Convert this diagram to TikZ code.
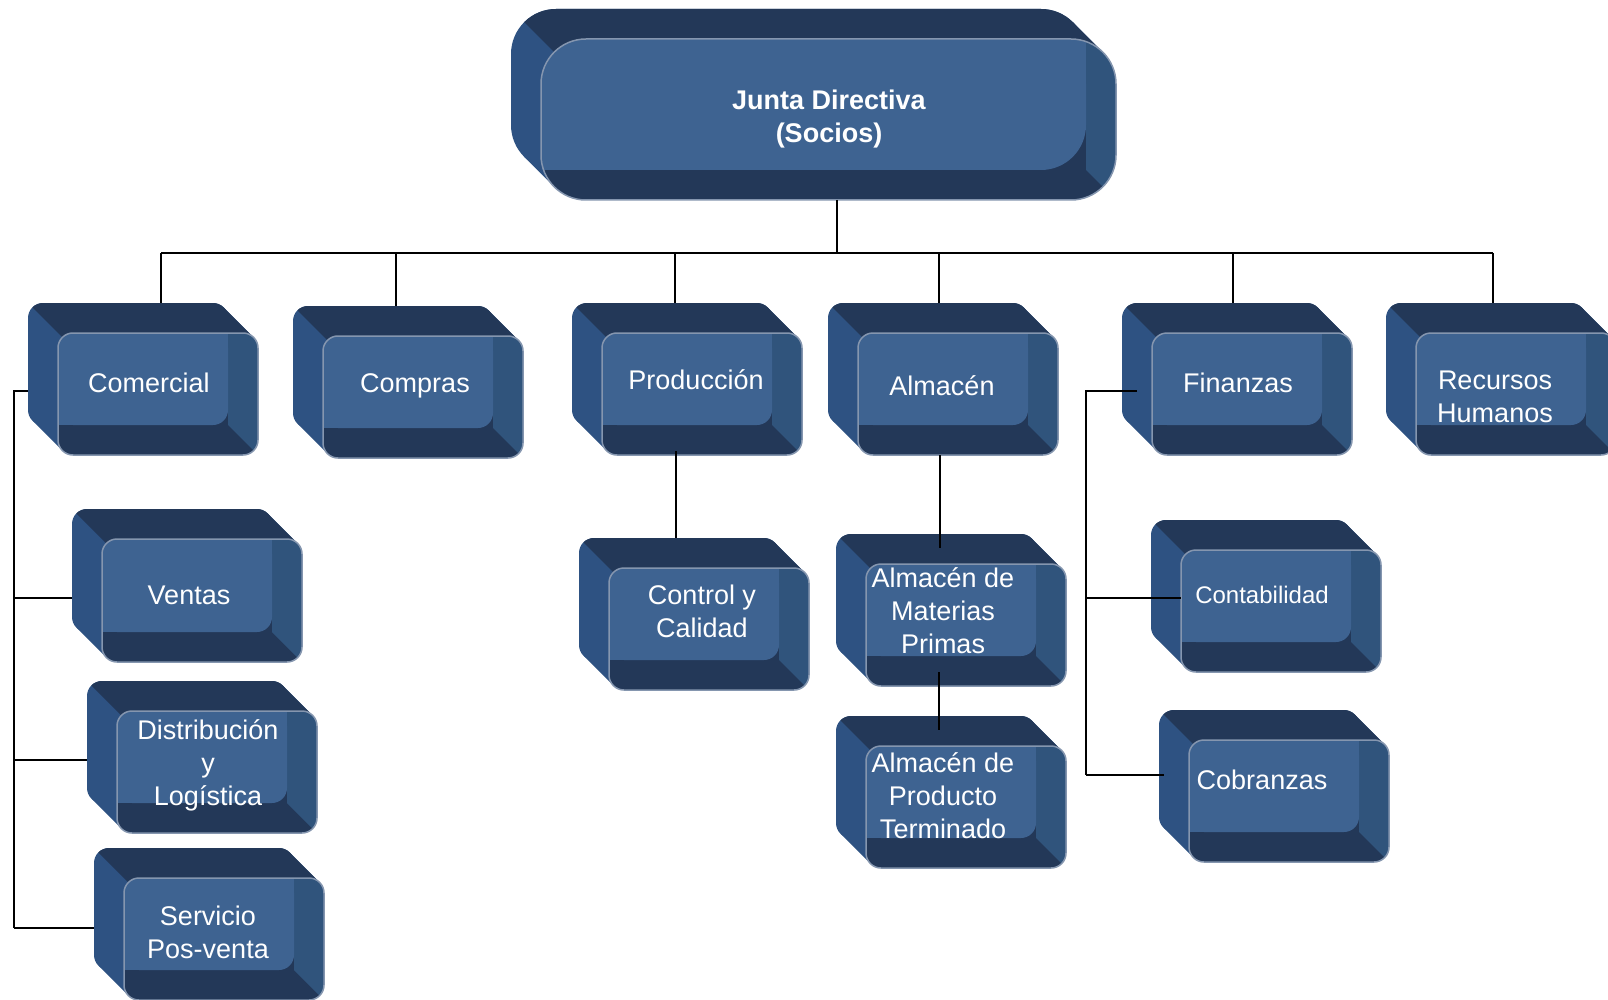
\documentclass[tikz,border=0pt]{standalone}
\usepackage{fontspec}
\setmainfont{Liberation Sans}
\usetikzlibrary{calc}

\definecolor{boxdark}{HTML}{233858}
\definecolor{boxside}{HTML}{2E5282}
\definecolor{facelight}{HTML}{3E6391}
\definecolor{facemid}{HTML}{30547C}
\definecolor{faceedge}{HTML}{8596AF}

\tikzset{
  link/.style={draw=black, line width=2pt},
  boxtext/.style={text=white, align=center, inner sep=0pt,
                  font=\fontsize{27}{33}\selectfont},
  anchorbox/.style={inner sep=0pt, outer sep=0pt},
}

% silhouette pieces of a block: back face, front face, joining band
% #1 x0, #2 y0, #3 width, #4 height, #5 radius, #6 fill colour
\newcommand\blockhull[6]{%
  \fill[#6, rounded corners=#5] ({#1-30},{#2-30}) rectangle ({#1+#3-30},{#2+#4-30});
  \fill[#6, rounded corners=#5] ({#1},{#2}) rectangle ({#1+#3},{#2+#4});
  \fill[#6]
    ({#1+#3-30-#5+\sbtan},{#2-30+#5-\sbtan}) -- ({#1+#3-#5+\sbtan},{#2+#5-\sbtan})
    -- ({#1+#5-\sbtan},{#2+#4-#5+\sbtan}) -- ({#1-30+#5-\sbtan},{#2+#4-30-#5+\sbtan}) -- cycle;
}

% #1 name, #2 x0, #3 y0, #4 width, #5 height, #6 corner radius,
% #7 text x, #8 text y, #9 text  (front face at (x0,y0), depth 30 up-left)
\newcommand\solidbox[9]{%
  \pgfmathsetmacro\sbtan{0.7071*#6}%
  % whole block in the side colour, then the top face in dark
  \blockhull{#2}{#3}{#4}{#5}{#6}{boxside}
  \begin{scope}
    \clip ({#2-100},{#3-100}) -- ({#2+#4+100},{#3+#4+100}) -- ({#2+#4+100},{#3-200})
      -- ({#2-100},{#3-200}) -- cycle;
    \blockhull{#2}{#3}{#4}{#5}{#6}{boxdark}
  \end{scope}
  % front face: dark base, right strip, light panel
  \begin{scope}
    \clip[rounded corners=#6] ({#2},{#3}) rectangle ({#2+#4},{#3+#5});
    \fill[boxdark] ({#2},{#3}) rectangle ({#2+#4},{#3+#5});
    \fill[facemid] ({#2+#4-30},{#3}) -- ({#2+#4},{#3}) -- ({#2+#4},{#3+#5})
      -- ({#2+#4-30},{#3+#5-30}) -- cycle;
    \fill[facelight, rounded corners=#6] ({#2},{#3}) rectangle ({#2+#4-30},{#3+#5-30});
    \fill[facelight] ({#2},{#3}) rectangle ({#2+#4-30-#6},{#3+#5-30});
    \fill[facelight] ({#2},{#3}) rectangle ({#2+#4-30},{#3+#5-30-#6});
  \end{scope}
  \draw[faceedge, line width=1.5pt, rounded corners=#6]
    ({#2},{#3}) rectangle ({#2+#4},{#3+#5});
  \node[anchorbox, minimum width=#4, minimum height=#5] (#1) at ({#2+#4/2},{#3+#5/2}) {};
  \node[anchorbox, minimum width=#4, minimum height=#5] (#1-back) at ({#2+#4/2-30},{#3+#5/2-30}) {};
  \node[boxtext] (#1-text) at (#7,#8) {#9};
}

\begin{document}
\begin{tikzpicture}[x=1pt, y=-1pt]
  \useasboundingbox (0,0) rectangle (1608,1000);
  \clip (0,0) rectangle (1608,1000);
  \fill[white] (0,0) rectangle (1608,1000);

  % board
  \solidbox{junta}{541}{39}{575}{161}{45}{829}{119}{\bfseries Junta Directiva\\\bfseries (Socios)}

  % first level
  \solidbox{comercial}{58}{333}{200}{122}{15}{149}{383}{Comercial}
  \solidbox{compras}{323}{336}{200}{122}{15}{415}{386}{Compras}
  \solidbox{produccion}{602}{333}{200}{122}{15}{696}{380}{Producción}
  \solidbox{almacen}{858}{333}{200}{122}{15}{942}{386}{Almacén}
  \solidbox{finanzas}{1152}{333}{200}{122}{15}{1238}{383}{Finanzas}
  \solidbox{rrhh}{1416}{333}{200}{122}{15}{1495}{397}{Recursos\\Humanos}

  % second level
  \solidbox{ventas}{102}{539}{200}{123}{15}{189}{595}{Ventas}
  \solidbox{distribucion}{117}{711}{200}{122}{15}{208}{765}{Distribución\\y\\Logística}
  \solidbox{servicio}{124}{878}{200}{122}{15}{208}{932}{Servicio\\Pos-venta}
  \solidbox{control}{609}{568}{200}{122}{15}{702}{611}{Control y\\Calidad}
  \solidbox{materias}{866}{564}{200}{122}{15}{943}{611}{Almacén de\\Materias\\Primas}
  \solidbox{terminado}{866}{746}{200}{122}{15}{943}{796}{Almacén de\\Producto\\Terminado}
  \solidbox{contabilidad}{1181}{550}{200}{122}{15}{1262}{595}{\fontsize{24}{29}\selectfont Contabilidad}
  \solidbox{cobranzas}{1189}{740}{200}{122}{15}{1262}{780}{Cobranzas}

  % connector junction points
  \coordinate (j-out) at (837,200);
  \coordinate (bus-l) at (161,253);
  \coordinate (bus-r) at (1493,253);
  \coordinate (d-compras) at (396,253);
  \coordinate (d-produccion) at (675,253);
  \coordinate (d-almacen) at (939,253);
  \coordinate (d-finanzas) at (1233,253);
  \coordinate (c-spine) at (14,391);
  \coordinate (c-ventas) at (14,598);
  \coordinate (c-distrib) at (14,760);
  \coordinate (c-servicio) at (14,928);
  \coordinate (f-spine) at (1086,391);
  \coordinate (f-conta) at (1086,598);
  \coordinate (f-cobra) at (1086,775);
  \coordinate (p-out) at (676,451);
  \coordinate (a-out) at (940,455);
  \coordinate (m-out) at (939,672);

  % board to departments
  \draw[link] (j-out) -- (j-out |- bus-l);
  \draw[link] (bus-l) -- (bus-r);
  \draw[link] (bus-l) -- (bus-l |- comercial-back.north);
  \draw[link] (d-compras) -- (d-compras |- compras-back.north);
  \draw[link] (d-produccion) -- (d-produccion |- produccion-back.north);
  \draw[link] (d-almacen) -- (d-almacen |- almacen-back.north);
  \draw[link] (d-finanzas) -- (d-finanzas |- finanzas-back.north);
  \draw[link] (bus-r) -- (bus-r |- rrhh-back.north);

  % Comercial branch
  \draw[link] (c-spine -| comercial-back.west) -- (c-spine) -- (c-servicio);
  \draw[link] (c-ventas) -- (c-ventas -| ventas-back.west);
  \draw[link] (c-distrib) -- (c-distrib -| distribucion-back.west);
  \draw[link] (c-servicio) -- (c-servicio -| servicio-back.west);

  % Producción and Almacén branches
  \draw[link] (p-out) -- (p-out |- control-back.north);
  \draw[link] (a-out) -- ([yshift=-14pt]a-out |- materias-back.north);
  \draw[link] (m-out) -- ([yshift=-14pt]m-out |- terminado-back.north);

  % Finanzas branch
  \draw[link] ([xshift=15pt]f-spine -| finanzas-back.west) -- (f-spine) -- (f-cobra);
  \draw[link] (f-conta) -- (f-conta -| contabilidad.west);
  \draw[link] (f-cobra) -- ([xshift=5pt]f-cobra -| cobranzas-back.west);
\end{tikzpicture}
\end{document}
